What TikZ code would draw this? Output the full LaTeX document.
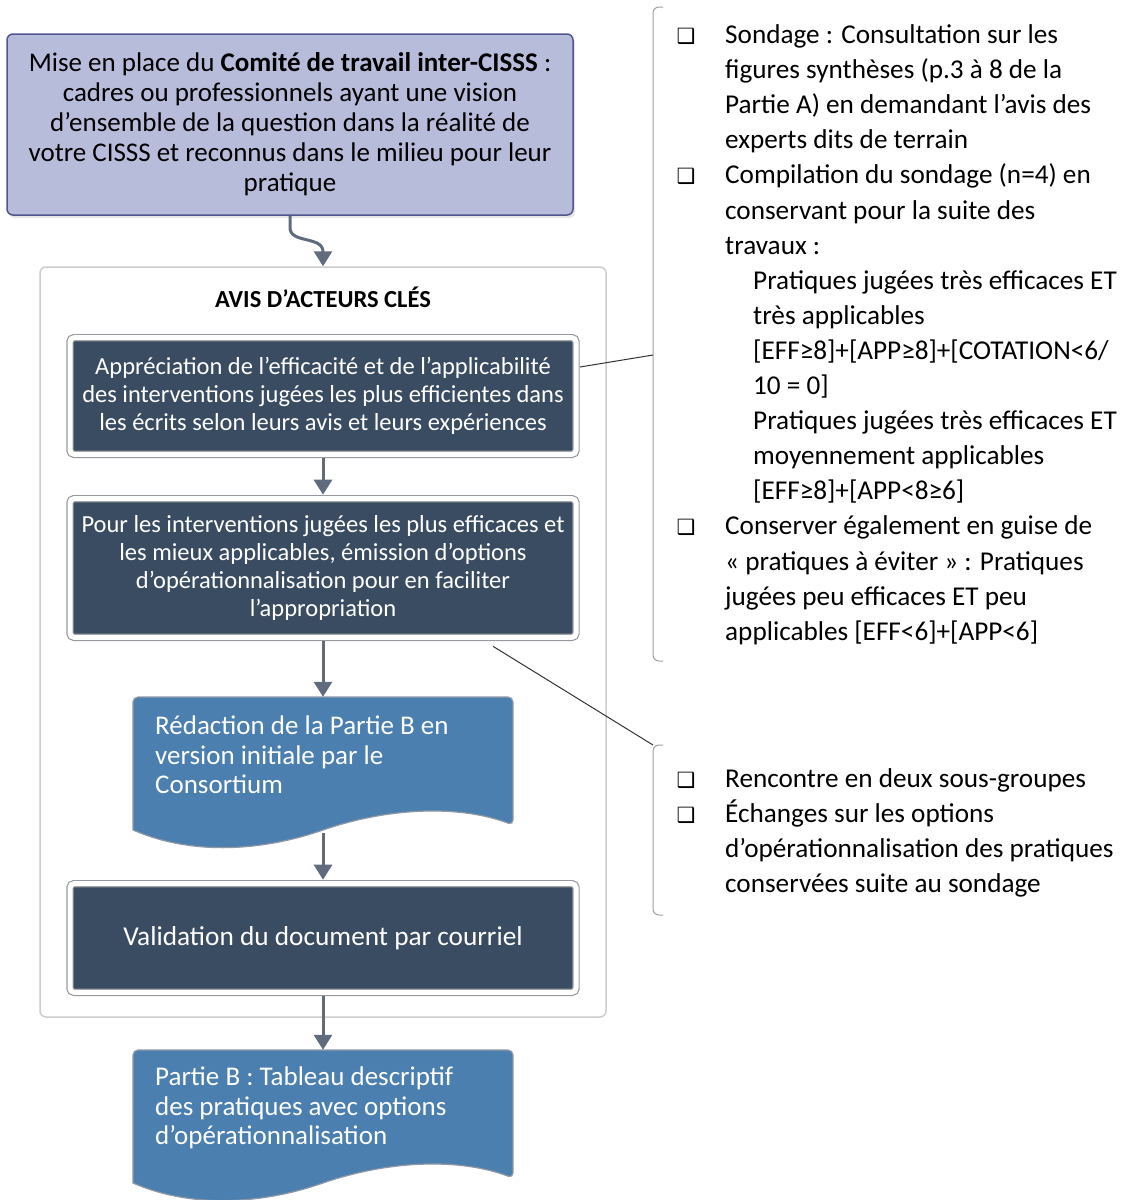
\documentclass[tikz,border=0pt]{standalone}
\usepackage{fontspec}
\setmainfont{Carlito}
\newfontfamily\chkfont{DejaVu Sans}
\usetikzlibrary{arrows.meta,positioning,calc,shadows}
\definecolor{lavbox}{RGB}{184,188,219}
\definecolor{lavline}{RGB}{80,86,140}
\definecolor{slatebox}{RGB}{58,76,98}
\definecolor{docblue}{RGB}{74,127,175}
\definecolor{arrgray}{RGB}{96,108,126}
\definecolor{grpline}{RGB}{205,205,205}
\definecolor{frmgray}{RGB}{150,154,160}
\newcommand\wavedoc[1]{\fill[docblue,draw=arrgray!70,line width=1.2pt,rounded corners=5pt](133,#1+133)--(133,#1)--(513,#1)--(513,#1+128)[sharp corners]
 ..controls(460,#1+108)and(390,#1+110)..(323,#1+133)..controls(260,#1+155)and(190,#1+158)..(133,#1+133)--cycle;}
\begin{document}
\begin{tikzpicture}[x=1pt,y=-1pt,
 arr/.style={arrgray,line width=3pt,-{Triangle[width=18pt,length=15pt]}},
 mise/.style={draw=lavline,line width=1.5pt,fill=lavbox,rounded corners=6pt,minimum width=566,minimum height=181,align=center,font=\fontsize{27}{30}\selectfont,drop shadow={shadow xshift=2pt,shadow yshift=-3pt,opacity=.2}},
 grp/.style={draw=grpline,line width=1.5pt,rounded corners=6pt,minimum width=566,minimum height=750},
 hd/.style={font=\fontsize{24.5}{28}\selectfont\bfseries},
 stepbox/.style={draw=frmgray,double=white,double distance=5pt,line width=1.2pt,fill=slatebox,rounded corners=4pt,minimum width=506,text=white,align=center,font=\fontsize{24.5}{27.7}\selectfont,inner sep=0pt,outer sep=4pt},
 docbox/.style={minimum width=380,minimum height=136,inner sep=0pt},
 doctxt/.style={text=white,align=left,anchor=west,inner sep=0pt,font=\fontsize{27}{29.5}\selectfont},
 rtxt/.style={anchor=base west,inner sep=0pt,font=\fontsize{27.2}{35}\selectfont},
 chk/.style={anchor=base,inner sep=0pt,font=\chkfont\fontsize{21}{24}\selectfont},
 brk/.style={draw=gray!75,line width=1pt,rounded corners=6pt},
 lead/.style={draw=black!80,line width=1pt}]
\useasboundingbox(0,0)rectangle(1121,1200);
% left column
\node[grp](avis)at(323,642){};
\node[hd](hd)at(323,297){AVIS D’ACTEURS CLÉS};
\node[mise](mise)at(290,124.5){Mise en place du \textbf{Comité de travail inter-CISSS} :\\cadres ou professionnels ayant une vision\\d’ensemble de la question dans la réalité de\\votre CISSS et reconnus dans le milieu pour leur\\pratique};
\node[stepbox,minimum height=116.6](box1)at(323,396){Appréciation de l’efficacité et de l’applicabilité\\des interventions jugées les plus efficientes dans\\les écrits selon leurs avis et leurs expériences};
\node[stepbox,minimum height=138.6](box2)at(323,568){Pour les interventions jugées les plus efficaces et\\les mieux applicables, émission d’options\\d’opérationnalisation pour en faciliter\\l’appropriation};
\node[stepbox,minimum height=108.6,font=\fontsize{27.3}{30}\selectfont](box3)at(323,938){Validation du document par courriel};
\wavedoc{697}
\node[docbox](doc1)at(323,765){};
\node[doctxt](doc1t)at(155,755){Rédaction de la Partie B en\\version initiale par le\\Consortium};
\wavedoc{1050}
\node[docbox](doc2)at(323,1118){};
\node[doctxt](doc2t)at(155,1108){Partie B : Tableau descriptif\\des pratiques avec options\\d’opérationnalisation};
\draw[arr](mise.south)--++(0,12)to[out=-90,in=90]++(33,24)--(avis.north);
\draw[arr](box1)--(box2);
\draw[arr](box2)--(doc1);
\draw[arr](doc1)--(box3);
\draw[arr](box3)--(doc2);
% right column
\draw[brk](663,7)--(653,7)--(653,661)--(663,661);
\draw[brk](663,745)--(653,745)--(653,915)--(663,915);
\coordinate(k1)at(653,355);
\coordinate(k2)at(653,745);
\draw[lead]($(box1.east)+(0,-29)$)--(k1);
\draw[lead]($(box2.south)+(170,5)$)--(k2);
\foreach \y [count=\i] in {43.5,183.9,534.9,787,822.1}
 \node[chk](c\i)at(686,\y){❑};
\foreach \x/\t [count=\i] in {725/{Sondage : Consultation sur les},725/{figures synthèses (p.3 à 8 de la},725/{Partie A) en demandant l’avis des},725/{experts dits de terrain},725/{Compilation du sondage (n=4) en},725/{conservant pour la suite des},725/{travaux :},753/{Pratiques jugées très efficaces ET},753/{très applicables},753/{[EFF≥8]+[APP≥8]+[COTATION<6/},753/{10 = 0]},753/{Pratiques jugées très efficaces ET},753/{moyennement applicables},753/{[EFF≥8]+[APP<8≥6]},725/{Conserver également en guise de},725/{« pratiques à éviter » : Pratiques},725/{jugées peu efficaces ET peu},725/{applicables [EFF<6]+[APP<6]}}
 \node[rtxt](s\i)at(\x,{43.5+35.1*(\i-1)}){\t};
\foreach \x/\t [count=\i] in {725/{Rencontre en deux sous-groupes},725/{Échanges sur les options},725/{d’opérationnalisation des pratiques},725/{conservées suite au sondage}}
 \node[rtxt](e\i)at(\x,{787+35.1*(\i-1)}){\t};
\end{tikzpicture}
\end{document}
